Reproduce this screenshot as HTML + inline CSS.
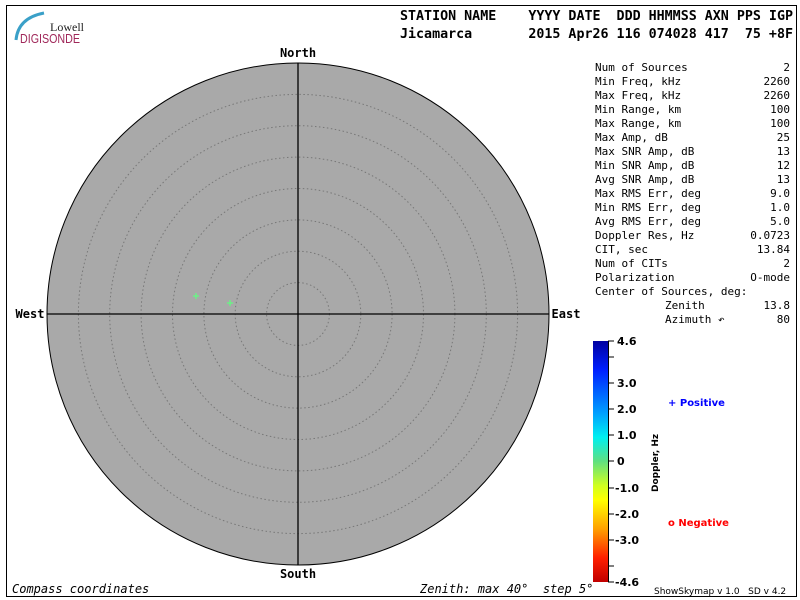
<!DOCTYPE html>
<html><head><meta charset="utf-8"><style>
html,body{margin:0;padding:0;background:#fff;width:800px;height:600px;overflow:hidden}
text{white-space:pre}
</style></head><body>
<svg width="800" height="600" xmlns="http://www.w3.org/2000/svg" xml:space="preserve">
<defs>
<linearGradient id="cb" x1="0" y1="0" x2="0" y2="1">
<stop offset="0" stop-color="#0000a0"/>
<stop offset="0.12" stop-color="#0020ff"/>
<stop offset="0.3" stop-color="#00a0ff"/>
<stop offset="0.4" stop-color="#00f0f0"/>
<stop offset="0.5" stop-color="#60e080"/>
<stop offset="0.6" stop-color="#d0ff20"/>
<stop offset="0.66" stop-color="#ffff00"/>
<stop offset="0.78" stop-color="#ffa000"/>
<stop offset="0.9" stop-color="#ff2000"/>
<stop offset="1" stop-color="#c00000"/>
</linearGradient>
</defs>
<rect x="6.5" y="5.5" width="790" height="591" fill="none" stroke="#000" stroke-width="1"/>
<path d="M16 40 Q18 18 44 13" fill="none" stroke="#3aa0c8" stroke-width="3"/>
<text x="50" y="31" font-family="Liberation Serif,serif" font-size="12" fill="#222">Lowell</text>
<text x="20" y="43" font-family="Liberation Sans,sans-serif" font-size="13" fill="#a0285a" textLength="60" lengthAdjust="spacingAndGlyphs">DIGISONDE</text>
<g font-family="DejaVu Sans Mono,Liberation Mono,monospace" font-size="13" fill="#000" font-weight="bold">
<text x="400" y="20" textLength="393" lengthAdjust="spacingAndGlyphs">STATION NAME    YYYY DATE  DDD HHMMSS AXN PPS IGP</text>
<text x="400" y="38" textLength="393" lengthAdjust="spacingAndGlyphs">Jicamarca       2015 Apr26 116 074028 417  75 +8F</text>
</g>
<circle cx="298" cy="314" r="251" fill="#a9a9a9" stroke="#000" stroke-width="1"/>
<g fill="none" stroke="#777" stroke-width="1" stroke-dasharray="1.5,2.5">
<circle cx="298" cy="314" r="31.4"/><circle cx="298" cy="314" r="62.8"/><circle cx="298" cy="314" r="94.1"/>
<circle cx="298" cy="314" r="125.5"/><circle cx="298" cy="314" r="156.9"/><circle cx="298" cy="314" r="188.3"/>
<circle cx="298" cy="314" r="219.6"/>
</g>
<line x1="47" y1="314" x2="549" y2="314" stroke="#000" stroke-width="1.3"/>
<line x1="298" y1="63" x2="298" y2="565" stroke="#000" stroke-width="1.3"/>
<g stroke="#60ff80" stroke-width="1.2">
<line x1="193" y1="296" x2="199" y2="296"/><line x1="196" y1="293" x2="196" y2="299"/>
<line x1="227" y1="303" x2="233" y2="303"/><line x1="230" y1="300" x2="230" y2="306"/>
</g>
<g font-family="DejaVu Sans Mono,Liberation Mono,monospace" font-size="12" font-weight="bold" fill="#000" text-anchor="middle">
<text x="298" y="57">North</text><text x="298" y="578">South</text>
<text x="30" y="318">West</text><text x="566" y="318">East</text>
</g>
<g font-family="DejaVu Sans Mono,Liberation Mono,monospace" font-size="11" fill="#000">
<text x="595" y="71">Num of Sources</text><text x="790" y="71" text-anchor="end">2</text>
<text x="595" y="85">Min Freq, kHz</text><text x="790" y="85" text-anchor="end">2260</text>
<text x="595" y="99">Max Freq, kHz</text><text x="790" y="99" text-anchor="end">2260</text>
<text x="595" y="113">Min Range, km</text><text x="790" y="113" text-anchor="end">100</text>
<text x="595" y="127">Max Range, km</text><text x="790" y="127" text-anchor="end">100</text>
<text x="595" y="141">Max Amp, dB</text><text x="790" y="141" text-anchor="end">25</text>
<text x="595" y="155">Max SNR Amp, dB</text><text x="790" y="155" text-anchor="end">13</text>
<text x="595" y="169">Min SNR Amp, dB</text><text x="790" y="169" text-anchor="end">12</text>
<text x="595" y="183">Avg SNR Amp, dB</text><text x="790" y="183" text-anchor="end">13</text>
<text x="595" y="197">Max RMS Err, deg</text><text x="790" y="197" text-anchor="end">9.0</text>
<text x="595" y="211">Min RMS Err, deg</text><text x="790" y="211" text-anchor="end">1.0</text>
<text x="595" y="225">Avg RMS Err, deg</text><text x="790" y="225" text-anchor="end">5.0</text>
<text x="595" y="239">Doppler Res, Hz</text><text x="790" y="239" text-anchor="end">0.0723</text>
<text x="595" y="253">CIT, sec</text><text x="790" y="253" text-anchor="end">13.84</text>
<text x="595" y="267">Num of CITs</text><text x="790" y="267" text-anchor="end">2</text>
<text x="595" y="281">Polarization</text><text x="790" y="281" text-anchor="end">O-mode</text>
<text x="595" y="295">Center of Sources, deg:</text>
<text x="665" y="309">Zenith</text><text x="790" y="309" text-anchor="end">13.8</text>
<text x="665" y="323">Azimuth ↶</text><text x="790" y="323" text-anchor="end">80</text>
</g>
<rect x="593" y="341" width="15" height="241" fill="url(#cb)"/>
<line x1="608.5" y1="341" x2="608.5" y2="582" stroke="#000"/>
<g stroke="#000"><line x1="608" y1="341" x2="614" y2="341"/><line x1="608" y1="357" x2="614" y2="357"/><line x1="608" y1="383" x2="614" y2="383"/><line x1="608" y1="409" x2="614" y2="409"/><line x1="608" y1="435" x2="614" y2="435"/><line x1="608" y1="461" x2="614" y2="461"/><line x1="608" y1="488" x2="614" y2="488"/><line x1="608" y1="514" x2="614" y2="514"/><line x1="608" y1="540" x2="614" y2="540"/><line x1="608" y1="566" x2="614" y2="566"/><line x1="608" y1="582" x2="614" y2="582"/></g>
<g font-family="DejaVu Sans,Liberation Sans,sans-serif" font-size="11" font-weight="bold" fill="#000">
<text x="617" y="345">4.6</text><text x="617" y="387">3.0</text><text x="617" y="413">2.0</text><text x="617" y="439">1.0</text><text x="617" y="465">0</text><text x="615" y="492">-1.0</text><text x="615" y="518">-2.0</text><text x="615" y="544">-3.0</text><text x="615" y="586">-4.6</text>
<text transform="translate(658,492) rotate(-90)" font-size="9">Doppler, Hz</text>
<text x="668" y="406" fill="#0000ff" font-size="10">+ Positive</text>
<text x="668" y="526" fill="#ff0000" font-size="10">o Negative</text>
</g>
<g font-family="DejaVu Sans Mono,Liberation Mono,monospace" font-size="12" font-style="italic" fill="#000">
<text x="12" y="593">Compass coordinates</text>
<text x="420" y="593">Zenith: max 40°  step 5°</text>
</g>
<text x="654" y="594" font-family="DejaVu Sans,Liberation Sans,sans-serif" font-size="9" fill="#000">ShowSkymap v 1.0   SD v 4.2</text>
</svg>
</body></html>
